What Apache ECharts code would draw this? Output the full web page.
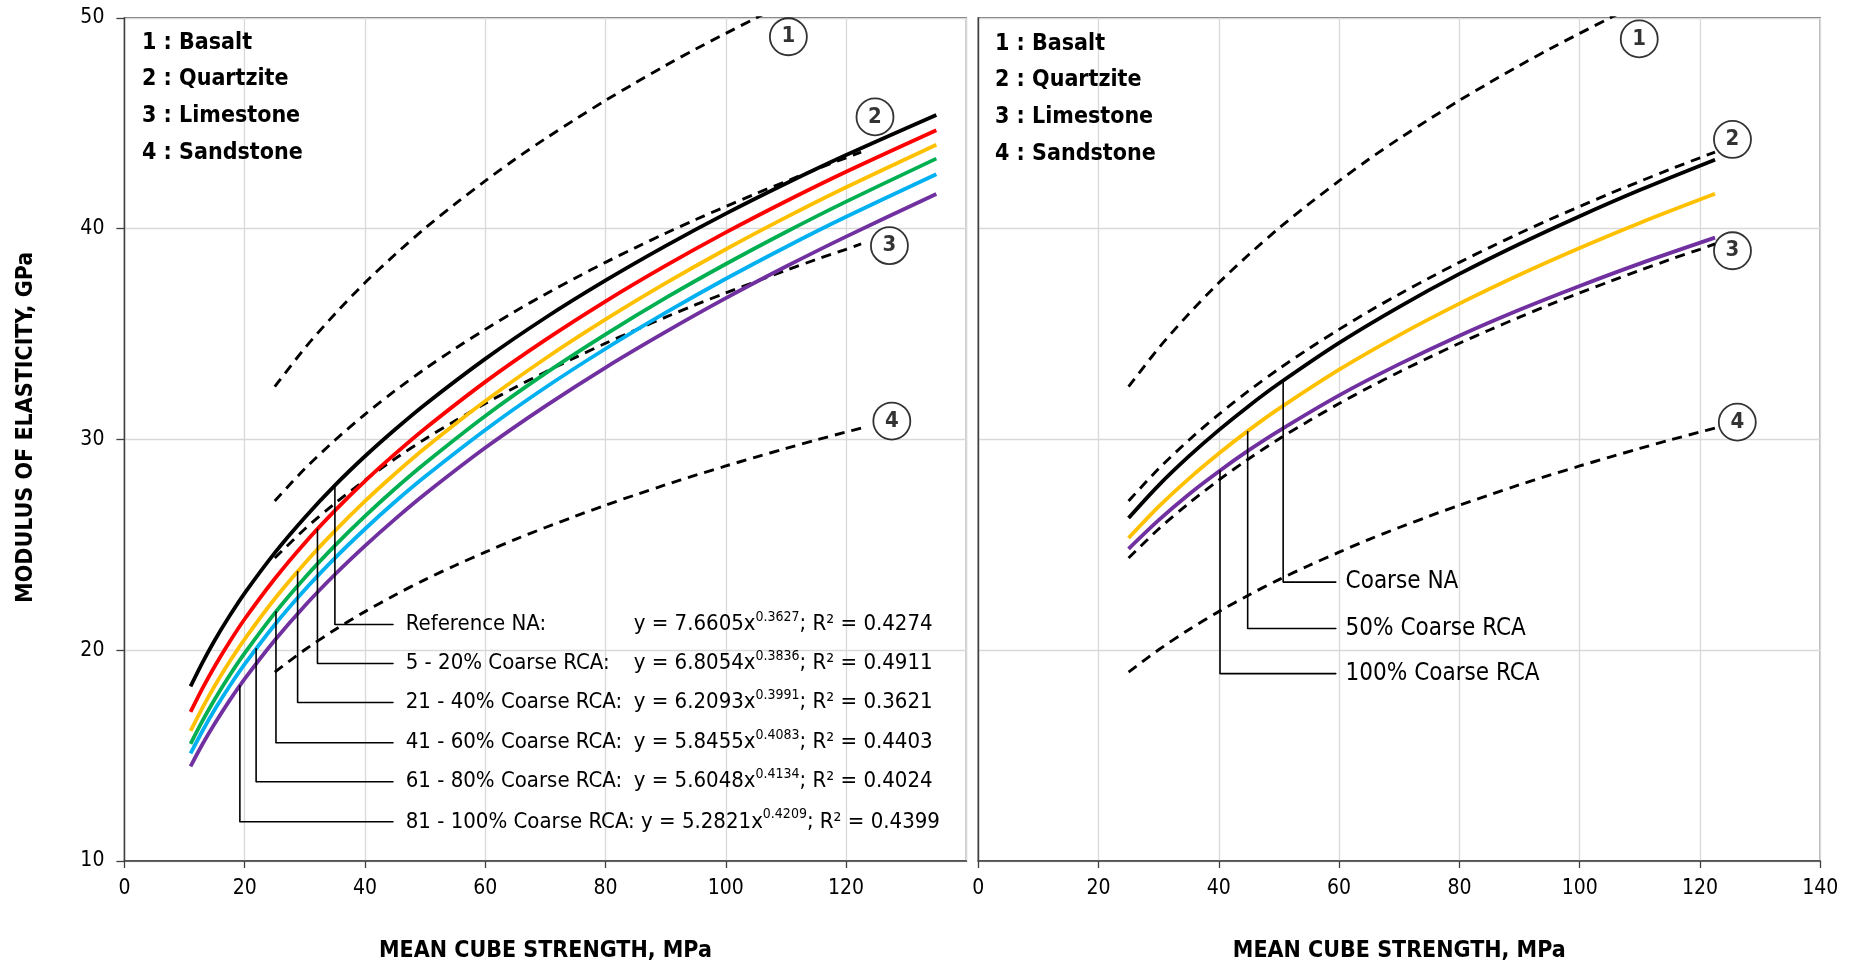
<!DOCTYPE html>
<html><head><meta charset="utf-8">
<script src="https://cdn.jsdelivr.net/npm/echarts@6/dist/echarts.min.js"></script>
<style>html,body{margin:0;padding:0;background:#fff;}#chart{width:1857px;height:968px;}</style>
</head><body><div id="chart"></div>
<script>
// ---------------- DATA ----------------
// Left panel: fitted curves for RCA replacement groups
const xFit = [11,13,15,17.5,20,25,30,35,40,45,50,60,70,80,90,100,110,120,135];
const refNA     = [18.28,19.42,20.46,21.63,22.71,24.62,26.30,27.82,29.20,30.47,31.66,33.82,35.77,37.54,39.18,40.71,42.14,43.49,45.39];
const rca5_20   = [17.07,18.20,19.23,20.40,21.48,23.39,25.09,26.62,28.02,29.31,30.52,32.73,34.72,36.55,38.24,39.82,41.30,42.70,44.67];
const rca21_40  = [16.17,17.28,18.30,19.46,20.53,22.44,24.13,25.66,27.07,28.37,29.59,31.82,33.84,35.69,37.41,39.02,40.53,41.96,43.98];
const rca41_60  = [15.56,16.66,17.66,18.81,19.86,21.76,23.44,24.96,26.36,27.66,28.87,31.11,33.13,34.98,36.71,38.32,39.84,41.28,43.32];
const rca61_80  = [15.10,16.18,17.17,18.30,19.34,21.21,22.87,24.37,25.75,27.04,28.24,30.45,32.46,34.30,36.01,37.62,39.13,40.56,42.58];
const rca81_100 = [14.49,15.55,16.51,17.62,18.64,20.47,22.11,23.59,24.95,26.22,27.41,29.60,31.58,33.41,35.10,36.70,38.20,39.62,41.64];

// Reference aggregate-type curves (dashed), both panels
const xRock = [25,30,35,40,45,50,55,60,65,70,75,80,85,90,95,100,105,110,115,120,122.5];
const basalt    = [32.50,34.33,35.95,37.43,38.77,40.02,41.17,42.26,43.30,44.27,45.19,46.08,46.92,47.74,48.52,49.26,49.99,50.69,51.37,52.03,52.36];
const quartzite = [27.08,28.61,29.96,31.19,32.31,33.35,34.31,35.22,36.08,36.89,37.66,38.40,39.10,39.78,40.43,41.05,41.66,42.24,42.81,43.36,43.63];
const limestone = [24.37,25.75,26.96,28.07,29.08,30.02,30.88,31.70,32.47,33.20,33.89,34.56,35.19,35.80,36.39,36.95,37.49,38.02,38.53,39.02,39.27];
const sandstone = [18.96,20.02,20.97,21.83,22.62,23.35,24.02,24.65,25.26,25.82,26.36,26.88,27.37,27.85,28.30,28.74,29.16,29.57,29.97,30.35,30.54];

// Right panel curves
const xRight = [25,30,35,40,45,50,60,70,80,90,100,110,122.5];
const coarseNA = [26.27,27.82,29.19,30.44,31.59,32.65,34.58,36.29,37.85,39.27,40.59,41.83,43.27];
const rca50    = [25.32,26.81,28.13,29.33,30.44,31.46,33.31,34.95,36.44,37.81,39.08,40.27,41.65];
const rca100   = [24.81,26.17,27.39,28.48,29.49,30.41,32.09,33.57,34.92,36.15,37.28,38.34,39.57];

// Texts
const rockLegend = ['1 : Basalt','2 : Quartzite','3 : Limestone','4 : Sandstone'];
const rockIds = ['1','2','3','4'];
const leftNames = ['Reference NA:','5 - 20% Coarse RCA:','21 - 40% Coarse RCA:','41 - 60% Coarse RCA:','61 - 80% Coarse RCA:','81 - 100% Coarse RCA:'];
const fitCoef = ['7.6605','6.8054','6.2093','5.8455','5.6048','5.2821'];
const fitExp  = ['0.3627','0.3836','0.3991','0.4083','0.4134','0.4209'];
const fitR2   = ['0.4274','0.4911','0.3621','0.4403','0.4024','0.4399'];
const rightNames = ['Coarse NA','50% Coarse RCA','100% Coarse RCA'];
const xTitle = 'MEAN CUBE STRENGTH, MPa';
const yTitle = 'MODULUS OF ELASTICITY, GPa';

// ---------------- font selection ----------------
function fontAvailable(name){
  const c=document.createElement('canvas').getContext('2d');
  const t='abcdefghijklmnopqrstuvwxyz 0123456789 ABCDEFGHIJKLM';
  c.font='40px monospace'; const w1=c.measureText(t).width;
  c.font="40px '"+name+"', monospace"; const w2=c.measureText(t).width;
  c.font='40px serif'; const w3=c.measureText(t).width;
  c.font="40px '"+name+"', serif"; const w4=c.measureText(t).width;
  return (w1!==w2)||(w3!==w4);
}
let FF="'DejaVu Sans Condensed'", S=1;
if(!fontAvailable('DejaVu Sans Condensed')){
  if(fontAvailable('Liberation Sans Narrow')){FF="'Liberation Sans Narrow'";S=1.1;}
  else {FF="'DejaVu Sans'";S=0.9;}
}
const fs=n=>Math.round(n*S*10)/10;

// ---------------- build option ----------------
const zip=(xs,ys)=>xs.map((x,i)=>[x,ys[i]]);
const AX='#404040', GRIDC='#d9d9d9';

function solid(name,xs,ys,color,g){
  return {type:'line',name,xAxisIndex:g,yAxisIndex:g,data:zip(xs,ys),showSymbol:false,symbol:'none',
    smooth:0.3,lineStyle:{color,width:3.8},z:3,silent:true};
}
function dashed(name,ys,g){
  return {type:'line',name,xAxisIndex:g,yAxisIndex:g,data:zip(xRock,ys),showSymbol:false,symbol:'none',
    smooth:0.3,clip:true,lineStyle:{color:'#000',width:2.9,type:[10,7]},z:2,silent:true};
}

// leader lines: [x on curve, y on curve]; label row y; end x
const leftLeaders = [[35.0,27.82],[32.1,25.75],[28.8,23.74],[25.2,21.83],[21.9,20.08],[19.2,18.32]];
const leftRows = [21.22,19.37,17.52,15.61,13.76,11.86];
const leftEndX = 44.7;
const rightLeaders = [[50.7,32.80],[44.8,30.39],[40.2,28.53]];
const rightRows = [23.23,21.03,18.89];
const rightEndX = 59.5;

const series=[];
// left panel
series.push(dashed('Basalt',basalt,0),dashed('Quartzite',quartzite,0),dashed('Limestone',limestone,0),dashed('Sandstone',sandstone,0));
series.push(solid('Reference NA',xFit,refNA,'#000000',0));
series.push(solid('5 - 20% Coarse RCA',xFit,rca5_20,'#FF0000',0));
series.push(solid('21 - 40% Coarse RCA',xFit,rca21_40,'#FFC000',0));
series.push(solid('41 - 60% Coarse RCA',xFit,rca41_60,'#00B050',0));
series.push(solid('61 - 80% Coarse RCA',xFit,rca61_80,'#00B0F0',0));
series.push(solid('81 - 100% Coarse RCA',xFit,rca81_100,'#7030A0',0));
// right panel
series.push(dashed('Basalt',basalt,1),dashed('Quartzite',quartzite,1),dashed('Limestone',limestone,1),dashed('Sandstone',sandstone,1));
series.push(solid('Coarse NA',xRight,coarseNA,'#000000',1));
series.push(solid('50% Coarse RCA',xRight,rca50,'#FFC000',1));
series.push(solid('100% Coarse RCA',xRight,rca100,'#7030A0',1));

const richL={
  n:{fontFamily:FF,fontSize:fs(22),color:'#000',width:228,lineHeight:28},
  w:{fontFamily:FF,fontSize:fs(22),color:'#000',lineHeight:28},
  m:{fontFamily:FF,fontSize:fs(22),color:'#000',lineHeight:28},
  s:{fontFamily:FF,fontSize:fs(14),color:'#000',verticalAlign:'top',lineHeight:14}
};
leftLeaders.forEach((p,i)=>{
  const last = i===leftLeaders.length-1;
  const txt=(last?'{w|'+leftNames[i]+'}':'{n|'+leftNames[i]+'}')+'{m|'+(last?' ':'')+'y = '+fitCoef[i]+'x}{s|'+fitExp[i]+'}{m|; R\u00B2 = '+fitR2[i]+'}';
  series.push({type:'line',xAxisIndex:0,yAxisIndex:0,silent:true,z:6,
    symbol:'circle',symbolSize:1,showSymbol:true,itemStyle:{color:'#000'},
    lineStyle:{color:'#000',width:1.6},
    data:[[p[0],p[1]],[p[0],leftRows[i]],{value:[leftEndX,leftRows[i]],
      label:{show:true,position:'right',distance:12,formatter:txt,rich:richL}}]});
});
rightLeaders.forEach((p,i)=>{
  series.push({type:'line',xAxisIndex:1,yAxisIndex:1,silent:true,z:6,
    symbol:'circle',symbolSize:1,showSymbol:true,itemStyle:{color:'#000'},
    lineStyle:{color:'#000',width:1.6},
    data:[[p[0],p[1]],[p[0],rightRows[i]],{value:[rightEndX,rightRows[i]],
      label:{show:true,position:'right',distance:9,formatter:rightNames[i],fontFamily:FF,fontSize:fs(24),color:'#000'}}]});
});

// circled curve numbers
const circleAnchorsL=[[110.4,49.1],[124.8,45.3],[127.2,39.19],[127.6,30.87]];
const circleAnchorsR=[[109.9,49.0],[125.4,44.23],[125.4,38.95],[126.2,30.82]];
[[circleAnchorsL,0],[circleAnchorsR,1]].forEach(([arr,g])=>{
  series.push({type:'scatter',xAxisIndex:g,yAxisIndex:g,silent:true,z:7,clip:false,
    symbol:'circle',symbolSize:37,
    itemStyle:{color:'#fff',borderColor:'#000',borderWidth:1.8},
    label:{show:true,position:'inside',formatter:p=>p.value[2],fontFamily:FF,fontSize:fs(22),fontWeight:'bold',color:'#000'},
    data:arr.map((a,i)=>[a[0],a[1],rockIds[i]])});
});

function xAx(g,showMax){
  return {gridIndex:g,type:'value',min:0,max:140,interval:20,
    axisLine:{show:true,onZero:false,lineStyle:{color:AX,width:1.6}},
    axisTick:{show:true,length:7,lineStyle:{color:AX,width:1.3}},
    axisLabel:{showMaxLabel:showMax,showMinLabel:true,margin:17,fontFamily:FF,fontSize:fs(21),color:'#000'},
    splitLine:{show:true,lineStyle:{color:GRIDC,width:1.3}},
    name:xTitle,nameLocation:'middle',nameGap:79,
    nameTextStyle:{fontFamily:FF,fontSize:fs(23),fontWeight:'bold',color:'#000'}};
}
function yAx(g,labels){
  const o={gridIndex:g,type:'value',min:10,max:50,interval:10,
    axisLine:{show:true,onZero:false,lineStyle:{color:AX,width:1.4}},
    axisTick:{show:labels,length:8,lineStyle:{color:AX,width:1.3}},
    axisLabel:{show:labels,margin:20,fontFamily:FF,fontSize:fs(21),color:'#000'},
    splitLine:{show:true,lineStyle:{color:GRIDC,width:1.3}}};
  if(labels){
    o.name=yTitle;o.nameLocation='middle';o.nameGap=87;
    o.nameTextStyle={fontFamily:FF,fontSize:fs(23),fontWeight:'bold',color:'#000',padding:[0,0,0,24]};
  }
  return o;
}

const graphic=[];
const legL=[42.6,79.3,116,152.8], legR=[43.8,80.5,117.2,154];
rockLegend.forEach((t,i)=>{
  graphic.push({type:'text',x:142,y:legL[i],silent:true,z:10,
    style:{text:t,font:'bold '+fs(23)+'px '+FF,fill:'#000',textVerticalAlign:'middle',verticalAlign:'middle'}});
  graphic.push({type:'text',x:995,y:legR[i],silent:true,z:10,
    style:{text:t,font:'bold '+fs(23)+'px '+FF,fill:'#000',textVerticalAlign:'middle',verticalAlign:'middle'}});
});

const option={
  animation:false,
  backgroundColor:'#fff',
  textStyle:{fontFamily:FF},
  grid:[
    {left:124.4,top:17.8,width:842,height:844.4,show:true,borderColor:AX,borderWidth:1.3,backgroundColor:'transparent'},
    {left:978.2,top:17.8,width:842.1,height:844.4,show:true,borderColor:AX,borderWidth:1.3,backgroundColor:'transparent'}
  ],
  xAxis:[xAx(0,false),xAx(1,true)],
  yAxis:[yAx(0,true),yAx(1,false)],
  series,
  graphic
};
const chart=echarts.init(document.getElementById('chart'),null,{renderer:'canvas'});
chart.setOption(option);
</script>
</body></html>
